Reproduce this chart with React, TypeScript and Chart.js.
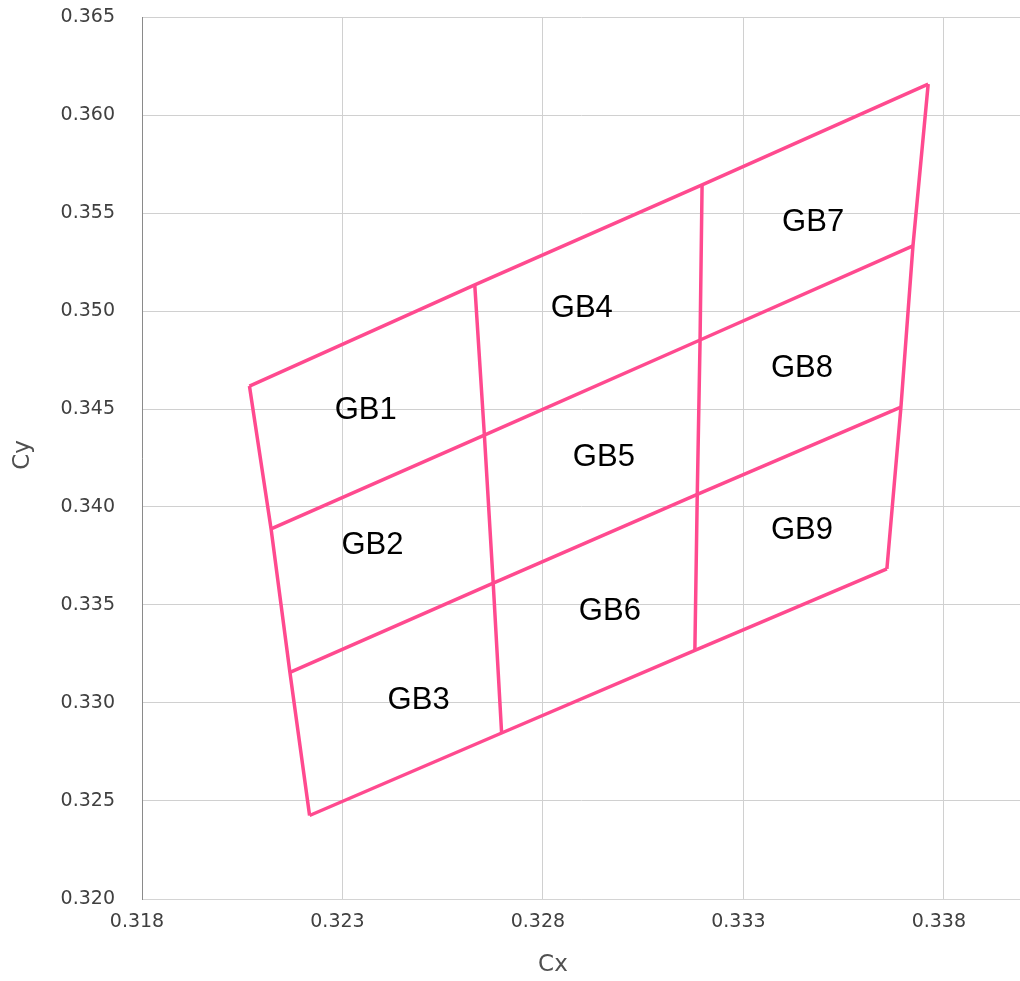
import React, { useEffect, useRef } from "react";
import { Chart, registerables } from "chart.js";

Chart.register(...registerables);

// Axis ranges and tick labels
const X_MIN = 0.318;
const X_MAX = 0.3399;
const Y_MIN = 0.32;
const Y_MAX = 0.365;
const X_TICKS = [0.318, 0.323, 0.328, 0.333, 0.338];
const Y_TICKS = [0.32, 0.325, 0.33, 0.335, 0.34, 0.345, 0.35, 0.355, 0.36, 0.365];
const X_TITLE = "Cx";
const Y_TITLE = "Cy";

// Grid nodes (rows top -> bottom, columns left -> right)
const ROW0_X = [0.32068, 0.3263, 0.33197, 0.33761];
const ROW0_Y = [0.34617, 0.35133, 0.35643, 0.36158];
const ROW1_X = [0.32122, 0.32654, 0.33192, 0.33723];
const ROW1_Y = [0.33888, 0.34367, 0.34852, 0.35332];
const ROW2_X = [0.32169, 0.32676, 0.33185, 0.33693];
const ROW2_Y = [0.33156, 0.33612, 0.34064, 0.3451];
const ROW3_X = [0.32218, 0.32697, 0.33179, 0.33658];
const ROW3_Y = [0.32426, 0.32847, 0.33268, 0.33684];

// Box labels
const BOX_LABELS = ["GB1", "GB2", "GB3", "GB4", "GB5", "GB6", "GB7", "GB8", "GB9"];
const BOX_LABEL_X = [0.32358, 0.32375, 0.3249, 0.32897, 0.32952, 0.32967, 0.33474, 0.33446, 0.33446];
const BOX_LABEL_Y = [0.34495, 0.33806, 0.33015, 0.35015, 0.34255, 0.33469, 0.35454, 0.34709, 0.33878];

const LINE_COLOR = "#FF4A8F";

export default function App() {
  const canvasRef = useRef<HTMLCanvasElement | null>(null);

  useEffect(() => {
    const canvas = canvasRef.current;
    if (!canvas) return;

    const rowsX = [ROW0_X, ROW1_X, ROW2_X, ROW3_X];
    const rowsY = [ROW0_Y, ROW1_Y, ROW2_Y, ROW3_Y];
    const datasets: any[] = [];
    const style = {
      showLine: true,
      borderColor: LINE_COLOR,
      backgroundColor: LINE_COLOR,
      borderWidth: 3.5,
      pointRadius: 0,
      pointHoverRadius: 0,
      fill: false,
      tension: 0,
      borderJoinStyle: "miter",
    };
    for (let r = 0; r < 4; r++) {
      datasets.push({
        ...style,
        data: rowsX[r].map((x, i) => ({ x, y: rowsY[r][i] })),
      });
    }
    for (let c = 0; c < 4; c++) {
      datasets.push({
        ...style,
        data: rowsX.map((row, r) => ({ x: row[c], y: rowsY[r][c] })),
      });
    }

    const labelPlugin = {
      id: "boxLabels",
      afterDatasetsDraw(chart: any) {
        const { ctx, scales, chartArea } = chart;
        ctx.save();
        ctx.fillStyle = "#000000";
        ctx.font = "31px 'Liberation Sans', Arial, sans-serif";
        ctx.textAlign = "center";
        ctx.textBaseline = "middle";
        BOX_LABELS.forEach((t, i) => {
          ctx.fillText(t, scales.x.getPixelForValue(BOX_LABEL_X[i]), scales.y.getPixelForValue(BOX_LABEL_Y[i]));
        });
        // axis titles
        ctx.fillStyle = "#505050";
        ctx.font = "23px 'DejaVu Sans', sans-serif";
        ctx.fillText(X_TITLE, chartArea.left + (chartArea.right - chartArea.left) * 0.468, 965);
        ctx.translate(23, (chartArea.top + chartArea.bottom) / 2 - 3);
        ctx.rotate(-Math.PI / 2);
        ctx.fillText(Y_TITLE, 0, 0);
        ctx.restore();
      },
    };

    const chart = new Chart(canvas, {
      type: "scatter",
      data: { datasets },
      options: {
        animation: false,
        responsive: true,
        maintainAspectRatio: false,
        layout: { padding: { top: 17, right: 0, left: 0, bottom: 0 } },
        plugins: {
          legend: { display: false },
          tooltip: { enabled: false },
        },
        scales: {
          x: {
            type: "linear",
            min: X_MIN,
            max: X_MAX,
            afterBuildTicks: (s: any) => {
              s.ticks = X_TICKS.map((v) => ({ value: v }));
            },
            afterFit: (s: any) => {
              s.height = 82;
              s.paddingLeft = 0;
              s.paddingRight = 0;
            },
            grid: { color: "#d0d0d0", lineWidth: 1, drawTicks: false },
            border: { color: "#d4d4d4", width: 1 },
            ticks: {
              padding: 12,
              labelOffset: -5,
              color: "#404040",
              font: { family: "'DejaVu Sans', sans-serif", size: 19 },
              maxRotation: 0,
              autoSkip: false,
              callback: (v: any) => Number(v).toFixed(3),
            },
          },
          y: {
            type: "linear",
            min: Y_MIN,
            max: Y_MAX,
            afterBuildTicks: (s: any) => {
              s.ticks = Y_TICKS.map((v) => ({ value: v }));
            },
            afterFit: (s: any) => {
              s.width = 142;
              s.paddingTop = 0;
              s.paddingBottom = 0;
            },
            grid: { color: "#d0d0d0", lineWidth: 1, drawTicks: false },
            border: { color: "#8a8a8a", width: 1 },
            ticks: {
              padding: 27,
              color: "#404040",
              font: { family: "'DejaVu Sans', sans-serif", size: 19 },
              autoSkip: false,
              callback: (v: any) => Number(v).toFixed(3),
            },
          },
        },
      } as any,
      plugins: [labelPlugin],
    });

    return () => chart.destroy();
  }, []);

  return (
    <div style={{ position: "fixed", left: 0, top: 0, width: 1020, height: 981, background: "#ffffff" }}>
      <canvas ref={canvasRef} />
    </div>
  );
}
